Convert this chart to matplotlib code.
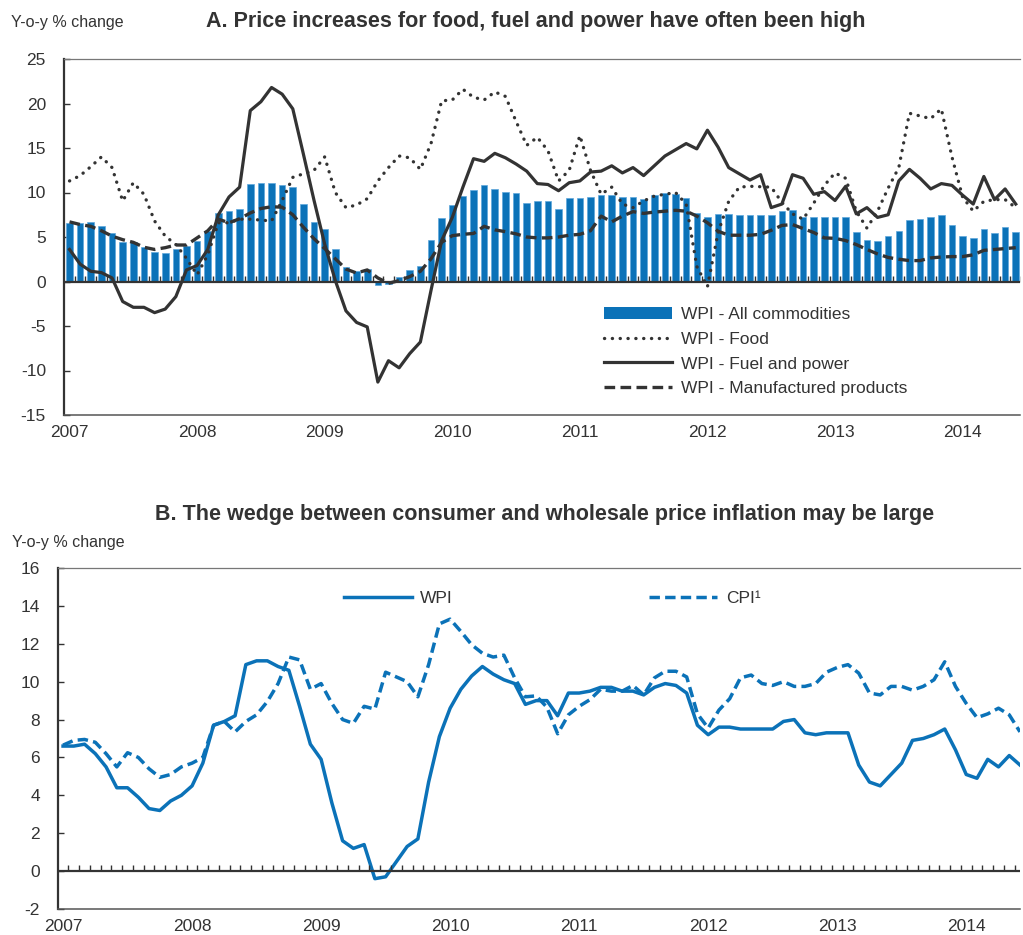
import numpy as np
import matplotlib
matplotlib.use("Agg")
import matplotlib.pyplot as plt
from matplotlib.lines import Line2D
from matplotlib.patches import Patch

plt.rcParams['font.family'] = ['Liberation Sans', 'DejaVu Sans']
plt.rcParams['axes.unicode_minus'] = False

# monthly data, Jan 2007 .. Jun 2014
years = ['2007', '2008', '2009', '2010', '2011', '2012', '2013', '2014']

wpi_all = [6.6, 6.6, 6.7, 6.2, 5.5, 4.4, 4.4, 3.9, 3.3, 3.2, 3.7, 4.0,
           4.5, 5.7, 7.7, 7.9, 8.2, 10.9, 11.1, 11.1, 10.8, 10.6, 8.7, 6.7,
           5.9, 3.6, 1.6, 1.2, 1.4, -0.4, -0.3, 0.5, 1.3, 1.7, 4.7, 7.1,
           8.6, 9.6, 10.3, 10.8, 10.4, 10.1, 9.9, 8.8, 9.0, 9.0, 8.2, 9.4,
           9.4, 9.5, 9.7, 9.7, 9.5, 9.5, 9.3, 9.7, 9.9, 9.8, 9.4, 7.7,
           7.2, 7.6, 7.6, 7.5, 7.5, 7.5, 7.5, 7.9, 8.0, 7.3, 7.2, 7.3,
           7.3, 7.3, 5.6, 4.7, 4.5, 5.1, 5.7, 6.9, 7.0, 7.2, 7.5, 6.4,
           5.1, 4.9, 5.9, 5.5, 6.1, 5.6]

wpi_food = [11.3, 11.9, 12.9, 14.0, 12.8, 9.05, 11.1, 9.8, 6.8, 5.1, 4.15, 2.6,
            0.75, 3.0, 6.6, 6.6, 7.0, 7.0, 6.9, 6.8, 9.1, 11.7, 12.1, 12.5,
            14.0, 10.0, 8.3, 8.6, 9.3, 11.3, 12.8, 14.1, 13.9, 12.6, 15.5, 20.3,
            20.4, 21.6, 20.7, 20.4, 21.3, 20.8, 18.0, 15.3, 16.2, 14.7, 11.3, 12.5,
            16.4, 12.5, 9.8, 10.6, 8.7, 8.3, 9.05, 9.6, 9.8, 10.0, 8.7, 1.7,
            -0.6, 5.5, 9.0, 10.6, 10.7, 10.65, 10.6, 8.9, 7.6, 7.0, 8.8, 10.8,
            12.2, 11.6, 7.9, 6.0, 7.9, 10.5, 12.8, 18.9, 18.6, 18.3, 19.4, 14.0,
            9.5, 7.9, 9.0, 9.2, 9.2, 8.3]

wpi_fuel = [3.6, 1.95, 1.15, 1.0, 0.4, -2.25, -2.9, -2.9, -3.5, -3.1, -1.7, 1.3,
            1.8, 3.6, 7.5, 9.5, 10.6, 19.2, 20.2, 21.8, 21.05, 19.4, 14.3, 9.1,
            4.2, 0.1, -3.3, -4.6, -5.1, -11.3, -8.9, -9.7, -8.1, -6.8, -1.0, 4.6,
            7.2, 10.6, 13.8, 13.5, 14.4, 13.9, 13.2, 12.4, 11.0, 10.9, 10.2, 11.1,
            11.3, 12.3, 12.4, 13.0, 12.2, 12.8, 11.9, 13.0, 14.1, 14.8, 15.5, 14.9,
            17.0, 15.1, 12.8, 12.1, 11.4, 12.0, 8.3, 8.7, 12.0, 11.6, 9.8, 10.1,
            9.1, 10.7, 7.6, 8.3, 7.2, 7.5, 11.3, 12.6, 11.6, 10.4, 11.0, 10.8,
            9.7, 8.7, 11.8, 9.2, 10.4, 8.7]

wpi_manuf = [6.7, 6.4, 6.2, 5.7, 5.1, 4.7, 4.4, 3.85, 3.6, 3.8, 4.1, 4.1,
             4.9, 5.7, 7.0, 6.6, 7.05, 7.7, 8.2, 8.4, 8.35, 7.5, 6.1, 4.8,
             3.7, 2.55, 1.4, 0.95, 1.3, 0.4, -0.2, 0.1, 0.55, 1.15, 2.55, 4.4,
             5.15, 5.3, 5.4, 6.2, 5.8, 5.6, 5.35, 5.0, 4.9, 4.9, 5.0, 5.2,
             5.3, 5.7, 7.35, 6.7, 7.35, 7.85, 7.65, 7.8, 7.9, 8.0, 7.9, 7.35,
             6.6, 5.65, 5.2, 5.2, 5.2, 5.3, 5.75, 6.3, 6.4, 5.95, 5.5, 4.9,
             4.85, 4.6, 4.15, 3.6, 3.1, 2.7, 2.5, 2.35, 2.35, 2.65, 2.75, 2.8,
             2.8, 3.0, 3.5, 3.6, 3.7, 3.8]

cpi = [6.65, 6.9, 6.95, 6.8, 6.2, 5.5, 6.25, 6.0, 5.4, 4.95, 5.1, 5.5,
       5.7, 6.0, 7.7, 7.9, 7.35, 7.9, 8.25, 8.95, 9.9, 11.3, 11.15, 9.6,
       9.9, 8.85, 8.0, 7.8, 8.7, 8.55, 10.5, 10.25, 10.0, 9.2, 10.9, 13.05,
       13.3, 12.65, 11.95, 11.5, 11.3, 11.4, 10.2, 9.2, 9.25, 8.65, 7.25, 8.25,
       8.7, 9.05, 9.6, 9.5, 9.5, 9.8, 9.3, 10.2, 10.55, 10.55, 10.25, 8.3,
       7.55, 8.5, 9.1, 10.2, 10.35, 9.9, 9.8, 10.0, 9.75, 9.75, 9.9, 10.5,
       10.75, 10.9, 10.45, 9.4, 9.3, 9.75, 9.75, 9.55, 9.75, 10.1, 11.05, 9.75,
       8.85, 8.1, 8.3, 8.6, 8.25, 7.35]

months = np.arange(len(wpi_all))
dark = '#333333'
blue = '#0b72b8'

W, H = 1023, 935
fig = plt.figure(figsize=(W / 100, H / 100), dpi=100)


def px_axes(left, top, right, bottom):
    return fig.add_axes([left / W, 1 - bottom / H, (right - left) / W, (bottom - top) / H])


def style_axes(ax, yticks):
    ax.spines['right'].set_visible(False)
    ax.spines['left'].set_color(dark)
    ax.spines['left'].set_linewidth(1.6)
    ax.spines['top'].set_color('#777777')
    ax.spines['top'].set_linewidth(0.9)
    ax.spines['bottom'].set_color('#555555')
    ax.spines['bottom'].set_linewidth(1.1)
    ax.set_yticks(yticks)
    ax.tick_params(axis='y', direction='in', length=4, width=1, color=dark,
                   pad=13, labelsize=12.5, labelcolor=dark)
    ax.set_xticks(np.arange(0, 85, 12))
    ax.set_xticklabels(years)
    ax.tick_params(axis='x', length=0, pad=7, labelsize=12.5, labelcolor=dark)
    ax.axhline(0, color=dark, lw=1.6, zorder=4)
    # month tick marks on the zero line
    ax.plot(months + 0.5, np.zeros(len(months)), ls='none', marker=[(0, 0), (0, 1)],
            markersize=9, markeredgewidth=1.0, color=dark, zorder=4)


# ---- Panel A ----
ax1 = px_axes(64, 59, 1020, 415)
ax1.bar(months, wpi_all, width=0.62, color=blue, edgecolor='#5fa8dc', linewidth=0.5, zorder=2)
ax1.plot(months, wpi_food, color=dark, lw=2.4, ls=(0, (0.05, 2.3)),
         dash_capstyle='round', zorder=3)
ax1.plot(months, wpi_fuel, color=dark, lw=2.3, zorder=3)
ax1.plot(months, wpi_manuf, color=dark, lw=2.4, ls=(0, (3.2, 1.6)), zorder=3)
ax1.set_xlim(-0.52, 89.4)
ax1.set_ylim(-15, 25)
style_axes(ax1, np.arange(-15, 26, 5))

handles1 = [Patch(facecolor=blue, edgecolor='none'),
            Line2D([], [], color=dark, lw=2.4, ls=(0, (0.05, 2.3)), dash_capstyle='round'),
            Line2D([], [], color=dark, lw=2.3),
            Line2D([], [], color=dark, lw=2.4, ls=(0, (3.2, 1.6)))]
labels1 = ['WPI - All commodities', 'WPI - Food', 'WPI - Fuel and power',
           'WPI - Manufactured products']
ax1.legend(handles1, labels1, loc='upper left', bbox_to_anchor=(604 / W, 1 - 307 / H),
           bbox_transform=fig.transFigure, frameon=False, fontsize=12.5,
           handlelength=3.9, handletextpad=0.55, labelspacing=0.55,
           borderpad=0, borderaxespad=0, labelcolor=dark)

# ---- Panel B ----
ax2 = px_axes(58, 568, 1020, 909)
ax2.plot(months, wpi_all, color=blue, lw=2.5, zorder=3, label='WPI')
ax2.plot(months, cpi, color=blue, lw=2.5, ls=(0, (3.0, 1.5)), zorder=3, label='CPI\u00b9')
ax2.set_xlim(-0.47, 89.0)
ax2.set_ylim(-2, 16)
style_axes(ax2, np.arange(-2, 17, 2))
ax2.legend(loc='center left', bbox_to_anchor=(344 / W, 1 - 598 / H),
           bbox_transform=fig.transFigure, frameon=False, fontsize=12.5, ncol=2,
           handlelength=3.9, handletextpad=0.5, columnspacing=11.3,
           borderpad=0, borderaxespad=0, labelcolor=dark)

# ---- titles ----
fig.text(536 / W, 1 - 27 / H, 'A. Price increases for food, fuel and power have often been high',
         ha='center', va='baseline', fontsize=15.5, fontweight='bold', color=dark)
fig.text(545 / W, 1 - 520 / H,
         'B. The wedge between consumer and wholesale price inflation may be large',
         ha='center', va='baseline', fontsize=15.5, fontweight='bold', color=dark)
fig.text(11 / W, 1 - 27 / H, 'Y-o-y % change', ha='left', va='baseline',
         fontsize=11.5, color=dark)
fig.text(12 / W, 1 - 547 / H, 'Y-o-y % change', ha='left', va='baseline',
         fontsize=11.5, color=dark)

fig.savefig('out.png', dpi=100)
